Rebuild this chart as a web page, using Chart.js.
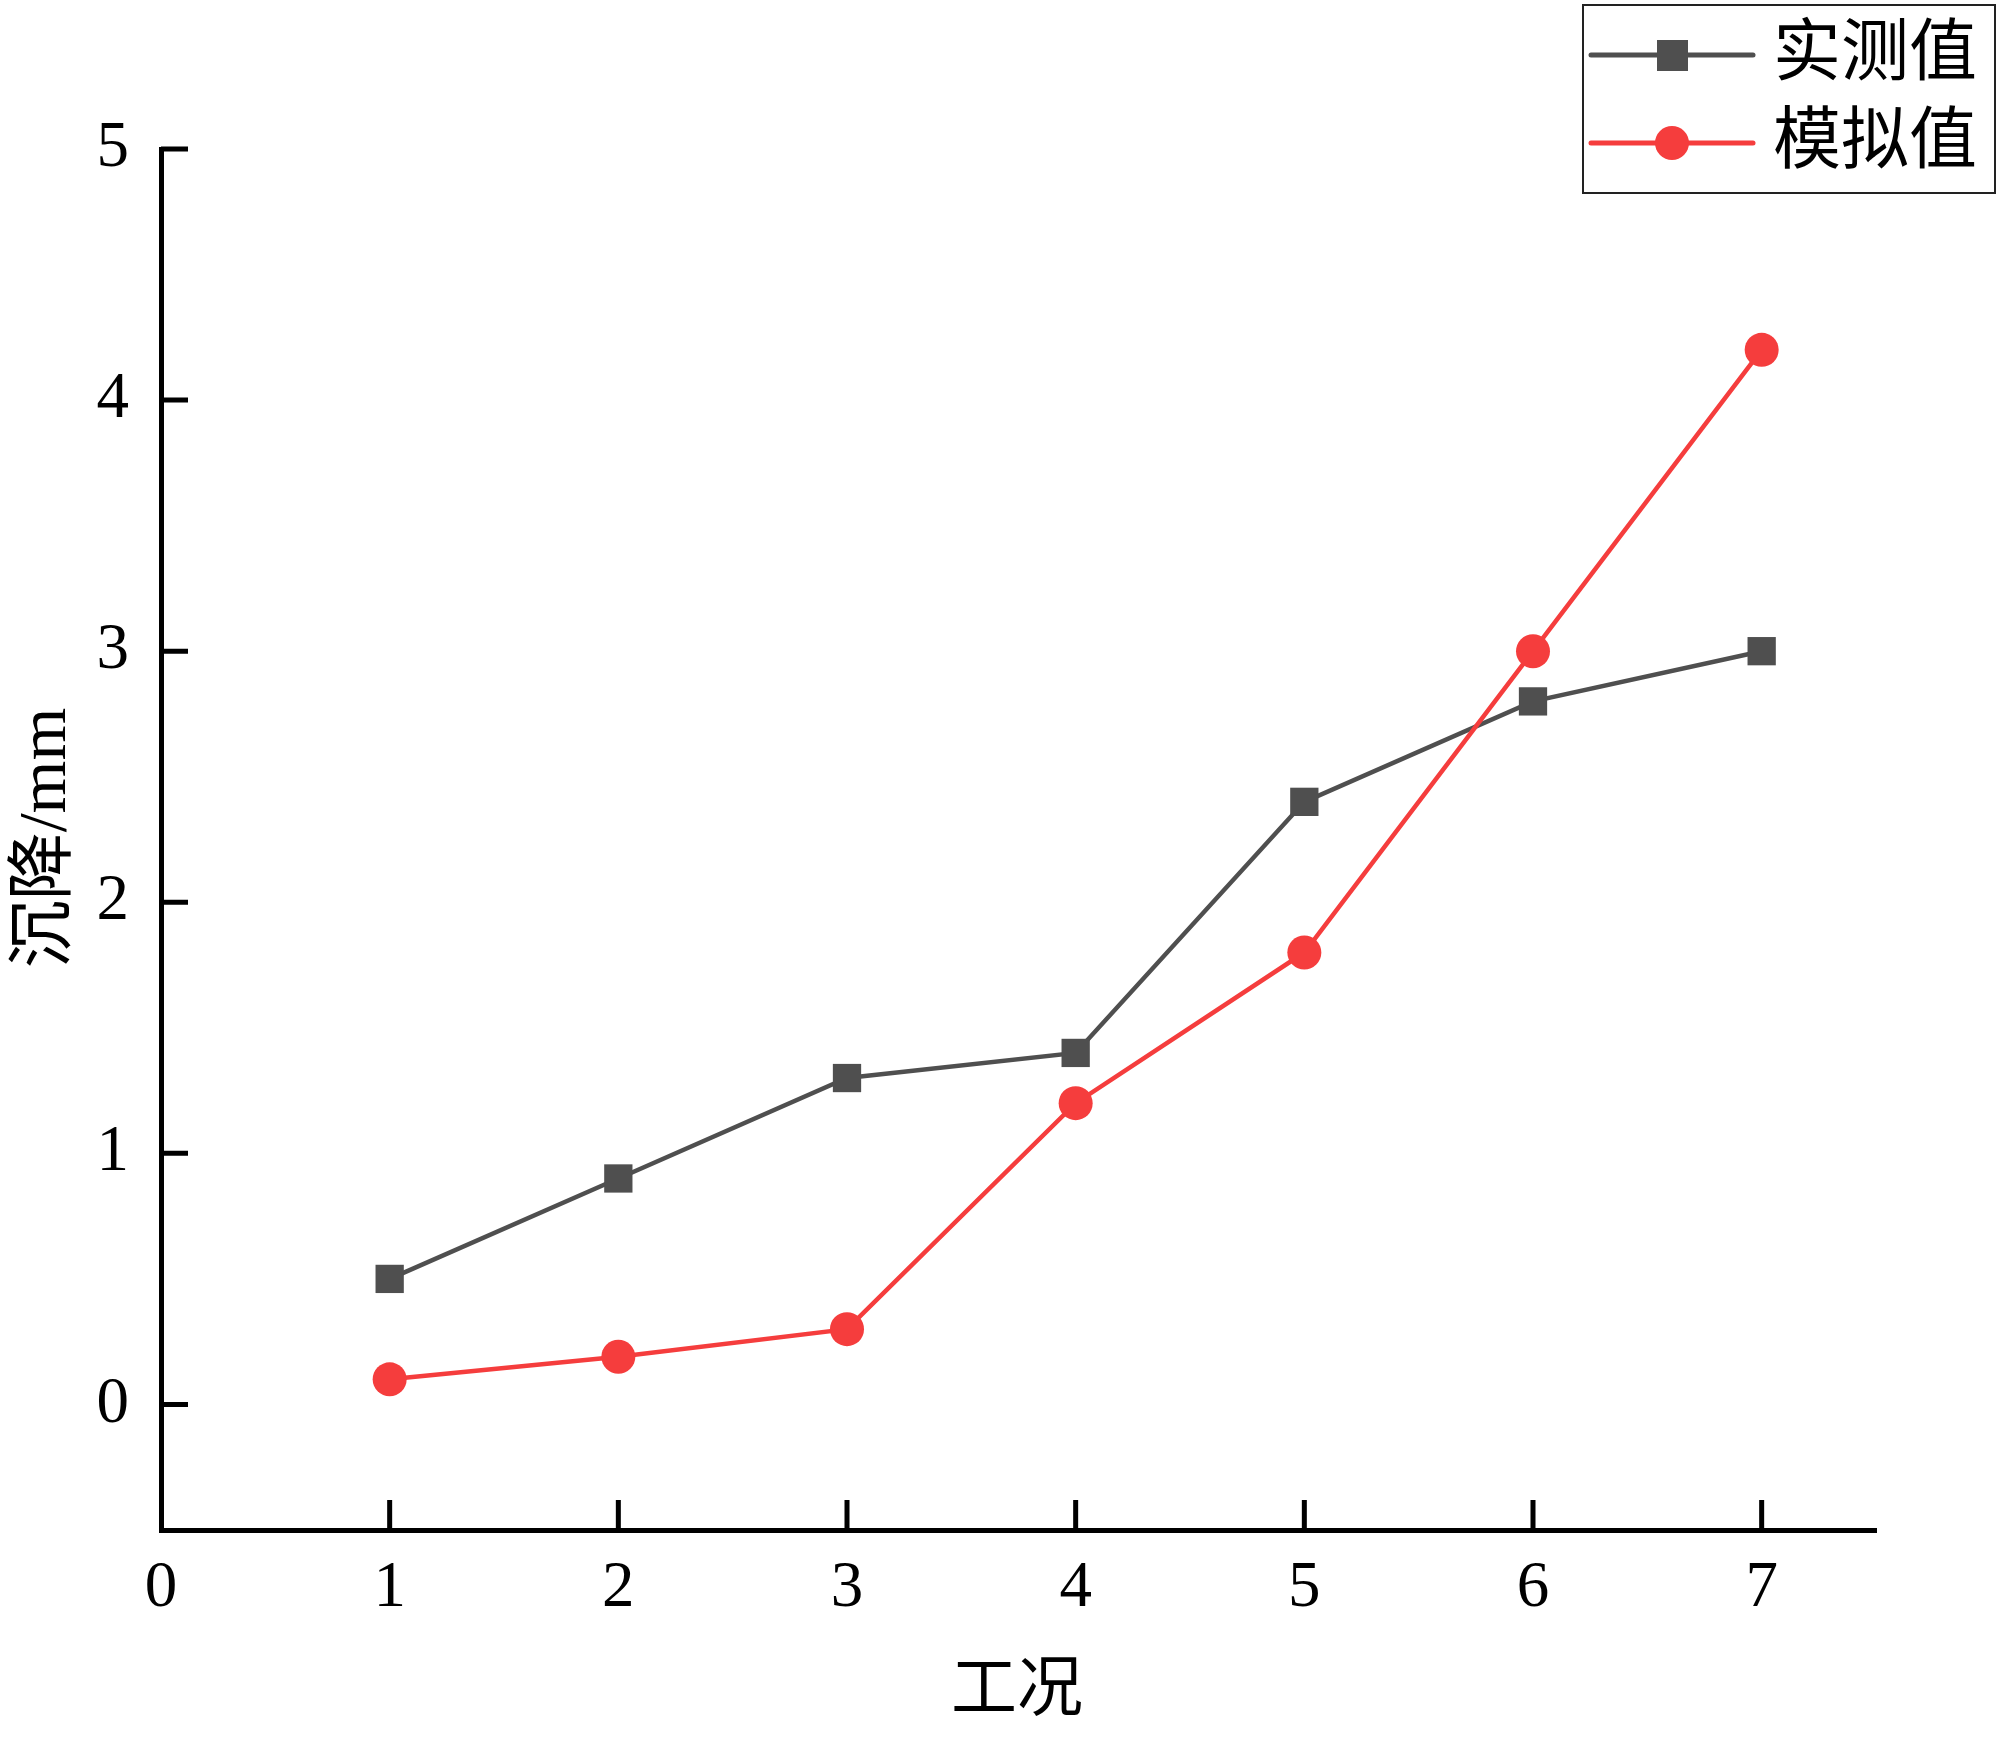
<!DOCTYPE html>
<html>
<head>
<meta charset="utf-8">
<script src="https://cdn.jsdelivr.net/npm/chart.js@4.4.0/dist/chart.umd.min.js"></script>
<style>
  html, body { margin: 0; padding: 0; background: #fff; }
  #wrap { width: 2000px; height: 1739px; }
</style>
</head>
<body>
<div id="wrap"><canvas id="line-chart"></canvas></div>
<script>
// data
const cases = [1, 2, 3, 4, 5, 6, 7];
const measured = [0.5, 0.9, 1.3, 1.4, 2.4, 2.8, 3.0];
const simulated = [0.1, 0.19, 0.3, 1.2, 1.8, 3.0, 4.2];
const seriesNames = ['实测值', '模拟值'];
const xTickValues = [0, 1, 2, 3, 4, 5, 6, 7];
const yTickValues = [0, 1, 2, 3, 4, 5];
const xTitle = '工况';
const yTitle = '沉降/mm';

const GRAY = '#4f4f4f';
const RED = '#f53d3d';
const SERIF = '"Liberation Serif", "Times New Roman", "Noto Sans CJK SC", serif';

const toPoints = (vals) => cases.map((c, i) => ({ x: c, y: vals[i] }));
const setTicks = (vals) => (scale) => { scale.ticks = vals.map(v => ({ value: v })); };

// inward ticks, axis titles and the boxed legend
const extras = {
  id: 'extras',
  afterDraw(chart) {
    const { ctx, chartArea, scales } = chart;
    ctx.save();
    ctx.strokeStyle = '#000';
    ctx.lineWidth = 5;
    ctx.beginPath();
    scales.y.ticks.forEach(t => {
      const py = scales.y.getPixelForValue(t.value);
      ctx.moveTo(chartArea.left, py);
      ctx.lineTo(chartArea.left + 27, py);
    });
    scales.x.ticks.forEach(t => {
      if (t.value === 0) return;
      const px = scales.x.getPixelForValue(t.value);
      ctx.moveTo(px, chartArea.bottom);
      ctx.lineTo(px, chartArea.bottom - 30);
    });
    ctx.stroke();

    // axis titles
    ctx.fillStyle = '#000';
    ctx.textAlign = 'center';
    ctx.textBaseline = 'middle';
    ctx.font = '66px ' + SERIF;
    ctx.fillText(xTitle, 1017, 1693);
    ctx.save();
    ctx.translate(47, 838);
    ctx.rotate(-Math.PI / 2);
    ctx.font = '68px ' + SERIF;
    ctx.fillText(yTitle, 0, 0);
    ctx.restore();

    // legend
    ctx.lineWidth = 2;
    ctx.strokeStyle = '#222';
    ctx.strokeRect(1583, 5, 412, 188);
    const rows = [55, 143];
    chart.data.datasets.forEach((ds, i) => {
      const y = rows[i];
      ctx.strokeStyle = ds.borderColor;
      ctx.lineWidth = 5;
      ctx.lineCap = 'round';
      ctx.beginPath();
      ctx.moveTo(1591, y);
      ctx.lineTo(1753, y);
      ctx.stroke();
      ctx.fillStyle = ds.borderColor;
      if (ds.pointStyle === 'rect') {
        ctx.fillRect(1672 - 15, y - 15, 31, 31);
      } else {
        ctx.beginPath();
        ctx.arc(1672, y, 17, 0, Math.PI * 2);
        ctx.fill();
      }
      ctx.fillStyle = '#000';
      ctx.textAlign = 'left';
      ctx.font = '68px ' + SERIF;
      ctx.fillText(ds.label, 1773, y + 2);
    });
    ctx.restore();
  }
};

const ctx = document.getElementById('line-chart');

new Chart(ctx, {
  type: 'line',
  data: {
    datasets: [{
      label: seriesNames[0],
      data: toPoints(measured),
      borderColor: GRAY,
      backgroundColor: GRAY,
      borderWidth: 4.5,
      pointStyle: 'rect',
      pointRadius: 20,
      pointBorderWidth: 0,
      order: 2
    }, {
      label: seriesNames[1],
      data: toPoints(simulated),
      borderColor: RED,
      backgroundColor: RED,
      borderWidth: 4.5,
      pointStyle: 'circle',
      pointRadius: 17,
      pointBorderWidth: 0,
      order: 1
    }]
  },
  options: {
    responsive: true,
    maintainAspectRatio: false,
    animation: false,
    layout: { padding: { left: 0, top: 149, right: 124, bottom: 0 } },
    plugins: {
      legend: { display: false },
      tooltip: { enabled: false }
    },
    scales: {
      x: {
        type: 'linear',
        min: 0,
        max: 7.5,
        afterBuildTicks: setTicks(xTickValues),
        afterFit(scale) { scale.height = 209; },
        ticks: {
          autoSkip: false,
          maxRotation: 0,
          padding: 12,
          color: '#000',
          font: { family: SERIF, size: 65 }
        },
        grid: { display: false },
        border: { display: true, width: 5, color: '#000' }
      },
      y: {
        min: -0.5,
        max: 5,
        afterBuildTicks: setTicks(yTickValues),
        afterFit(scale) { scale.width = 161; },
        ticks: {
          autoSkip: false,
          padding: 24,
          color: '#000',
          font: { family: SERIF, size: 65 }
        },
        grid: { display: false },
        border: { display: true, width: 5, color: '#000' }
      }
    }
  },
  plugins: [extras]
});
</script>
</body>
</html>
